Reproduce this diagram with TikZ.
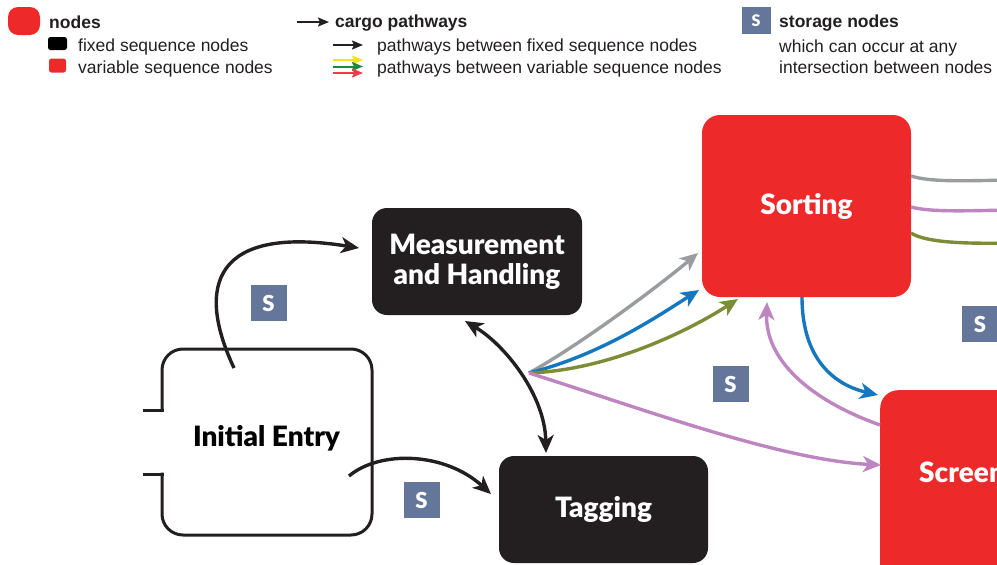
\documentclass[tikz,border=0pt]{standalone}
\usepackage{fontspec}
\setmainfont{Liberation Sans}
\newfontfamily\heavyfont{Lato Black}
\usetikzlibrary{arrows.meta}
\definecolor{nred}{HTML}{ED2A29}
\definecolor{nblack}{HTML}{231F20}
\definecolor{sblue}{HTML}{65769B}
\definecolor{pgray}{HTML}{9A9C9F}
\definecolor{pblue}{HTML}{1577BE}
\definecolor{pgreen}{HTML}{7B8E35}
\definecolor{ppurple}{HTML}{BE86C0}
\definecolor{lyellow}{HTML}{F4E21B}
\definecolor{lgreen}{HTML}{1A8B3C}
\definecolor{lred}{HTML}{EE3A4D}
\definecolor{txt}{HTML}{231F20}
\tikzset{
  bigfont/.style={font=\fontsize{28}{30}\selectfont\heavyfont},
  bignode/.style={rounded corners=15pt, inner sep=0pt, align=center, bigfont},
  fixednode/.style={bignode, fill=nblack, text=white},
  varnode/.style={bignode, fill=nred, text=white, rounded corners=18pt},
  stor/.style={fill=sblue, text=white, minimum size=36pt, inner sep=0pt, font=\fontsize{22}{22}\selectfont\heavyfont},
  flow/.style={line width=3.4pt, -{Stealth[length=18pt,width=16pt,inset=5pt]}},
  flowboth/.style={line width=3.4pt, {Stealth[length=18pt,width=16pt,inset=5pt]}-{Stealth[length=18pt,width=16pt,inset=5pt]}},
  leg/.style={anchor=base west, inner sep=0pt, text=txt, font=\fontsize{17.5}{20}\selectfont},
  legb/.style={anchor=base west, inner sep=0pt, text=txt, font=\fontsize{17.5}{20}\selectfont\bfseries},
  legarrow/.style={line width=2pt, -{Stealth[length=11pt,width=9pt,inset=2pt]}},
  legsq/.style={inner sep=0pt, rounded corners=2.5pt},
}
\begin{document}
\begin{tikzpicture}[x=1pt,y=-1pt]
\useasboundingbox (0,0) rectangle (997,565);
\clip (0,0) rectangle (997,565);

% ---------- legend ----------
\node[legsq, fill=nred, rounded corners=10pt, minimum width=32pt, minimum height=28pt] (lgnode) at (24,21) {};
\node[legb] (lgnodes) at (49,28) {nodes};
\node[legsq, fill=black, minimum width=19pt, minimum height=13pt] (lgfix) at (57.5,43.5) {};
\node[leg] (lgfixt) at (78,51) {fixed sequence nodes};
\node[legsq, fill=nred, minimum width=17pt, minimum height=14pt] (lgvar) at (57.5,65.5) {};
\node[leg] (lgvart) at (78,73) {variable sequence nodes};

\coordinate (ca1) at (297,22);
\coordinate (ca2) at (329,22);
\draw[legarrow, nblack] (ca1) -- (ca2);
\node[legb] (lgcargo) at (335,27) {cargo pathways};
\coordinate (cb1) at (333,45);  \coordinate (cb2) at (363,45);
\coordinate (cy1) at (333,60);  \coordinate (cy2) at (363,60);
\coordinate (cg1) at (333,66.5);\coordinate (cg2) at (363,66.5);
\coordinate (cr1) at (333,73);  \coordinate (cr2) at (363,73);
\draw[legarrow, nblack] (cb1) -- (cb2);
\draw[legarrow, lyellow] (cy1) -- (cy2);
\draw[legarrow, lgreen] (cg1) -- (cg2);
\draw[legarrow, lred] (cr1) -- (cr2);
\node[leg] (lgpf) at (377,51) {pathways between fixed sequence nodes};
\node[leg] (lgpv) at (377,73) {pathways between variable sequence nodes};

\node[fill=sblue, text=white, minimum width=29pt, minimum height=27pt, inner sep=0pt, font=\fontsize{16}{16}\selectfont\heavyfont] (lgs) at (756,20.5) {S};
\node[legb] (lgst) at (779,27) {storage nodes};
\node[leg] (lgst2) at (779,52) {which can occur at any};
\node[leg] (lgst3) at (779,73) {intersection between nodes};

% ---------- nodes ----------
\node[fixednode, minimum width=210pt, minimum height=107pt] (meas) at (477,261.5) {Measurement\\and Handling};
\node[fixednode, minimum width=209pt, minimum height=107pt] (tag) at (603.5,509.5) {Tagging};
\node[varnode, minimum width=209pt, minimum height=182pt] (sort) at (806.5,206) {Sorting};
\node[varnode, anchor=north west, minimum width=240pt, minimum height=220pt] (screen) at (880,390) {};
\node[anchor=west, inner sep=0pt, text=white, bigfont] (screentext) at (919,474) {Screening};

\draw[line width=3pt, nblack, rounded corners=21pt] (162,411.5) -- (162,349) -- (372,349) -- (372,535) -- (162,535) -- (162,472.5);
\draw[line width=3pt, nblack] (143,410) -- (163.5,410);
\draw[line width=3pt, nblack] (143,474) -- (163.5,474);
\node[inner sep=0pt, text=black, bigfont] (init) at (266.5,438) {Initial Entry};

% storage nodes
\node[stor] (s1) at (268.5,303) {S};
\node[stor] (s2) at (421.5,500) {S};
\node[stor] (s3) at (730.5,384) {S};
\node[stor] (s4) at (980,324) {S};

% ---------- connectors ----------
\coordinate (initout1) at (234,368);
\coordinate (measin) at (359,248);
\draw[flow, nblack] (initout1) .. controls (195,285) and (215,225) .. (measin);

\coordinate (initout2) at (349,476);
\coordinate (tagin1) at (491,494);
\draw[flow, nblack] (initout2) .. controls (380,450) and (445,452) .. (tagin1);

\coordinate (measbot) at (465,321);
\coordinate (tagtop) at (546,453);
\draw[flowboth, nblack] (measbot) .. controls (505,345) and (545,395) .. (tagtop);

\coordinate (fan) at (529,373);
\coordinate (sortin1) at (698,253);
\coordinate (sortin2) at (699,290);
\coordinate (sortin3) at (738,299);
\coordinate (screenin1) at (881,465);
\draw[flow, pgray] (fan) .. controls (580,345) and (660,285) .. (sortin1);
\draw[flow, pblue] (fan) .. controls (600,355) and (655,318) .. (sortin2);
\draw[flow, pgreen] (fan) .. controls (610,370) and (690,330) .. (sortin3);
\draw[flow, ppurple] (fan) .. controls (640,408) and (780,460) .. (screenin1);

\coordinate (sortbot) at (802,297);
\coordinate (screenin2) at (878,395);
\draw[flow, pblue] (sortbot) .. controls (802,360) and (835,385) .. (screenin2);

\coordinate (screenout) at (880,425);
\coordinate (sortin4) at (767,302);
\draw[flow, ppurple] (screenout) .. controls (810,400) and (765,360) .. (sortin4);

\coordinate (sortr1) at (911,176);
\coordinate (sortr2) at (911,207);
\coordinate (sortr3) at (911,233);
\coordinate (off1) at (1010,180);
\coordinate (off2) at (1010,210);
\coordinate (off3) at (1010,243);
\draw[line width=3.4pt, pgray] (sortr1) .. controls (930,182) and (960,181) .. (off1);
\draw[line width=3.4pt, ppurple] (sortr2) .. controls (930,212) and (960,211) .. (off2);
\draw[line width=3.4pt, pgreen] (sortr3) .. controls (925,242) and (960,244) .. (off3);
\end{tikzpicture}
\end{document}
